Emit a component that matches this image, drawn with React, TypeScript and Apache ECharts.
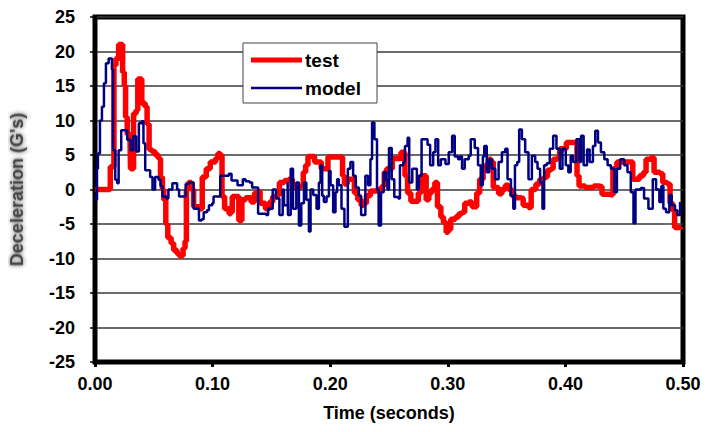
import React, { useEffect, useRef } from "react";
import * as echarts from "echarts";

const xTicks = [0, 0.1, 0.2, 0.3, 0.4, 0.5];
const yTicks = [-25, -20, -15, -10, -5, 0, 5, 10, 15, 20, 25];
const seriesNames = ["test", "model"];

const testTime = [
  0.0003, 0.0116, 0.013, 0.015, 0.0161, 0.0178, 0.0201, 0.0223, 0.0235, 0.0249,
  0.026, 0.0274, 0.0297, 0.0302, 0.0316, 0.0328, 0.035, 0.0364, 0.0387, 0.0398,
  0.0427, 0.0443, 0.046, 0.0483, 0.0511, 0.054, 0.0557, 0.0573, 0.0585, 0.0602,
  0.0619, 0.0647, 0.0669, 0.0698, 0.0715, 0.0737, 0.0749, 0.0766, 0.0777, 0.0794,
  0.0819, 0.0839, 0.089, 0.0912, 0.0946, 0.098, 0.1025, 0.1045, 0.1065, 0.108,
  0.1102, 0.114, 0.1155, 0.1167, 0.1206, 0.1223, 0.1237, 0.1249, 0.128, 0.1328,
  0.1356, 0.1384, 0.1404, 0.1449, 0.1483, 0.1511, 0.1545, 0.1568, 0.161, 0.1647,
  0.1678, 0.1749, 0.1771, 0.1791, 0.1811, 0.1847, 0.1867, 0.1904, 0.1924, 0.1963,
  0.1981, 0.2082, 0.2105, 0.2121, 0.2144, 0.2186, 0.2206, 0.2234, 0.2263, 0.2285,
  0.2308, 0.2342, 0.2404, 0.2441, 0.246, 0.248, 0.2508, 0.2528, 0.258, 0.2602,
  0.2622, 0.2636, 0.2658, 0.2686, 0.2726, 0.2749, 0.2771, 0.2799, 0.2816, 0.2839,
  0.2862, 0.289, 0.2912, 0.2941, 0.2963, 0.2986, 0.3003, 0.3025, 0.3065, 0.3093,
  0.3121, 0.3144, 0.3178, 0.3206, 0.3229, 0.3246, 0.3271, 0.33, 0.3319, 0.3347,
  0.3367, 0.3387, 0.3432, 0.346, 0.3489, 0.3517, 0.3545, 0.3579, 0.3622, 0.3641,
  0.3686, 0.3709, 0.3749, 0.3782, 0.3819, 0.3847, 0.3876, 0.3896, 0.3932, 0.3952,
  0.3989, 0.4008, 0.4082, 0.4099, 0.4116, 0.4169, 0.424, 0.4282, 0.4311, 0.4376,
  0.4404, 0.4438, 0.4551, 0.4573, 0.4607, 0.463, 0.4664, 0.4686, 0.4726, 0.4754,
  0.4805, 0.4828, 0.4867, 0.489, 0.4912, 0.4929, 0.4975,
];
const testValue = [
  0, 0, 3.3, 3.3, 18, 19, 21, 21, 17, 15,
  10.5, 8, 8, 3, 3, 11, 11.5, 16, 16, 12.5,
  12, 9.5, 5.8, 5.5, 5, 4.5, 1.8, 0, -1.5, -5,
  -7, -7.8, -8.8, -9.3, -9.6, -9.6, -8.5, -7.5, 0, 1,
  0, -2.5, -2.8, 1.8, 3, 4, 4.5, 5.2, 5, -1,
  -2.8, -3.5, -3.3, -1, -1, -4.5, -4.5, -1.5, -1.2, -1.8,
  -0.5, -0.3, -2, -2.8, -1.8, -1, -0.8, 1, 1.3, 1.5,
  0.3, 0.5, 2.5, 3.5, 4.8, 4.8, 4, 4, 3, 3,
  4.7, 4.7, 2, 0.8, 1.5, 1.5, -0.5, -1.5, -2.3, -2,
  -0.9, -0.2, 0, 0.5, 2.5, 3, 3, 4.5, 4.5, 5.4,
  5.3, 2, -0.5, -1.7, -1.7, -0.5, 2, 2, -1.5, -0.5,
  0, 1, -2.5, -4, -4.8, -6.2, -5.8, -4.3, -4, -3.5,
  -3.3, -2, -1.8, -2.5, -2.5, -0.5, 1.5, 2.8, 3.5, 4.4,
  4, 0.3, -0.6, 0, 0.6, 0, -0.9, -1.2, -1.3, -2.3,
  -2.6, 0, 0.8, 1.5, 1.8, 2.8, 3, 4.4, 4.6, 5.9,
  5.9, 6.8, 6.8, 2, 0.5, 0.3, 0.5, 0.4, -0.7, -0.8,
  3, 4, 4, 1.5, 1.5, 2, 2.5, 4.4, 4.6, 2.5,
  2.3, 1, 0.8, -2, -3, -5.5, -5.8,
];

const modelTime = [
  0, 0.0009, 0.0017, 0.0025, 0.0042, 0.0059, 0.0076, 0.0093, 0.0116, 0.0133,
  0.0144, 0.0153, 0.0172, 0.0189, 0.0201, 0.0223, 0.0257, 0.0274, 0.0302, 0.0325,
  0.0342, 0.035, 0.0364, 0.0373, 0.0398, 0.0412, 0.0427, 0.0469, 0.0489, 0.0511,
  0.054, 0.0557, 0.0573, 0.0607, 0.0624, 0.0658, 0.0681, 0.0698, 0.0715, 0.0751,
  0.0771, 0.0799, 0.0839, 0.0884, 0.0907, 0.0924, 0.0952, 0.0969, 0.0997, 0.1008,
  0.1048, 0.1065, 0.1138, 0.1161, 0.1195, 0.1212, 0.1243, 0.1257, 0.128, 0.1314,
  0.1336, 0.137, 0.1387, 0.1455, 0.1472, 0.15, 0.1511, 0.1528, 0.1539, 0.1556,
  0.1568, 0.1585, 0.1596, 0.1607, 0.1624, 0.1638, 0.1641, 0.1664, 0.1684, 0.1712,
  0.1734, 0.1754, 0.1777, 0.1797, 0.1819, 0.1833, 0.1856, 0.1884, 0.1904, 0.1918,
  0.1932, 0.1946, 0.1969, 0.1989, 0.2003, 0.2025, 0.2045, 0.2059, 0.2073, 0.2096,
  0.2121, 0.2138, 0.215, 0.2172, 0.2195, 0.2217, 0.2243, 0.2263, 0.2285, 0.2299,
  0.2322, 0.2342, 0.2356, 0.2376, 0.2387, 0.2398, 0.2412, 0.2432, 0.2455, 0.2477,
  0.2487, 0.25, 0.2523, 0.2545, 0.258, 0.2593, 0.2622, 0.2636, 0.2658, 0.2672,
  0.2698, 0.272, 0.2737, 0.2754, 0.2777, 0.2828, 0.285, 0.2876, 0.2895, 0.2918,
  0.2941, 0.298, 0.3008, 0.3037, 0.3059, 0.3088, 0.3102, 0.3121, 0.3144, 0.3178,
  0.3195, 0.3229, 0.3257, 0.328, 0.3298, 0.331, 0.3331, 0.3353, 0.3376, 0.3404,
  0.3432, 0.346, 0.3489, 0.3508, 0.3537, 0.3557, 0.3571, 0.359, 0.3607, 0.363,
  0.3658, 0.3686, 0.3715, 0.3743, 0.3763, 0.3785, 0.3805, 0.3819, 0.3842, 0.3867,
  0.3896, 0.3924, 0.3952, 0.3975, 0.4003, 0.4025, 0.4045, 0.4065, 0.4093, 0.412,
  0.4133, 0.4155, 0.4184, 0.4206, 0.4234, 0.4254, 0.4277, 0.4302, 0.4331, 0.4359,
  0.4387, 0.4416, 0.4438, 0.4466, 0.45, 0.4528, 0.4556, 0.4579, 0.4596, 0.4641,
  0.4669, 0.4706, 0.4743, 0.4771, 0.4799, 0.4816, 0.4833, 0.4856, 0.4884, 0.4904,
  0.4932, 0.4952, 0.4975,
];
const modelValue = [
  -1, -1.5, 3, 5.2, 10, 12, 15.4, 18.3, 19, 19,
  17.4, 5.7, 1.4, 0.9, 5.7, 8.6, 8.6, 7.2, 5.7, 7.7,
  7.7, 5.5, 5.5, 9.6, 9.9, 6.7, 2.8, 1.8, 0, 1.8,
  1.4, 0.5, -1, -1.3, 0, 0.9, 0.9, 0, -1, -1,
  0.8, 1, -2.8, -4.5, -4.3, -3.3, -3, -2.3, -2, -1,
  -1, 2, 2.3, 1.3, 1.3, 0.6, 0.6, 1.5, 1.2, 1,
  0.3, 0.3, -3.5, -3.7, -2.8, -2.8, 0, 0, -1.3, -1.3,
  -3.7, -3.7, 0, -2.3, -2.3, 1, -3.7, 3, -2.8, 1,
  -5.2, -2, 1, -1.5, -6.1, 0, -0.8, -2.8, 1, 3.5,
  -0.9, -1.8, -1, 2.7, 0.6, -3.3, -0.4, 1.5, 0.6, -2.8,
  -5.4, -5.4, 3, 4, 2, 0.3, -0.9, -3.7, -3.7, 2,
  0.6, 4.4, 9.7, 7.3, 7.3, 0, -5.2, -0.4, 2.5, 1.3,
  0, 6, 1.5, -1.1, -1.3, 3.5, 4, 6.3, 7.5, 1,
  3, 3, 0, 2, 7.3, 6.5, 3.5, 5.4, 7.3, 3.5,
  4.4, 3.7, 5.4, 7.8, 4.8, 4.4, 4.8, 3, 4.4, 4.9,
  7.3, 6, 3.5, 0.6, 4.8, 6.3, 2.5, 4.4, 3, 1.5,
  4, 5.4, 5.9, 1.5, -0.9, -2.8, 3.5, 4, 8.7, 7.3,
  5.4, 1.5, 4.9, 4, 3, 1, -2.8, 3.5, 3.8, 5.9,
  7.8, 5.9, 3, 5.9, 3.5, 2.5, 4.9, 4, 7.3, 4,
  7.8, 3.5, 5.8, 4, 6.3, 8.5, 6.8, 5.4, 4.4, 3.5,
  3, -0.4, 3, 4.4, 3.5, 2.5, -0.4, -4.9, 0, 0.2,
  -1.3, -2.8, 1.5, 0, -1.8, 0.5, -2.8, -3.3, -0.8, -2.3,
  -3, -3.7, -1.8,
];

const FONT = "'Liberation Sans', Arial, sans-serif";

export default function App() {
  const ref = useRef<HTMLDivElement>(null);
  useEffect(() => {
    if (!ref.current) return;
    const chart = echarts.init(ref.current, null, { renderer: "svg" });
    const testData = testTime.map((t, i) => [t, testValue[i]]);
    const modelData = modelTime.map((t, i) => [t, modelValue[i]]);
    chart.setOption({
      animation: false,
      backgroundColor: "#ffffff",
      grid: {
        left: 95,
        right: 31,
        top: 17,
        bottom: 70,
        show: true,
        borderColor: "#000000",
        borderWidth: 5,
        backgroundColor: "transparent",
      },
      xAxis: {
        type: "value",
        min: xTicks[0],
        max: xTicks[xTicks.length - 1],
        interval: 0.1,
        name: "Time (seconds)",
        nameLocation: "middle",
        nameGap: 42,
        nameTextStyle: { fontFamily: FONT, fontWeight: "bold", fontSize: 18, color: "#000" },
        axisLine: { show: true, onZero: false, lineStyle: { color: "#000", width: 4 } },
        axisTick: { show: true, inside: false, length: 5, lineStyle: { color: "#000", width: 3 } },
        splitLine: { show: false },
        axisLabel: {
          margin: 13,
          fontFamily: FONT,
          fontWeight: "bold",
          fontSize: 18,
          color: "#000",
          formatter: (v: number) => v.toFixed(2),
        },
      },
      yAxis: {
        type: "value",
        min: yTicks[0],
        max: yTicks[yTicks.length - 1],
        interval: 5,
        name: "Deceleration (G's)",
        nameLocation: "middle",
        nameGap: 69,
        nameTextStyle: {
          fontFamily: FONT,
          fontWeight: "bold",
          fontSize: 18,
          color: "#444",
          textShadowColor: "rgba(60,60,60,0.9)",
          textShadowBlur: 4,
        },
        axisLine: { show: true, onZero: false, lineStyle: { color: "#000", width: 4 } },
        axisTick: { show: true, inside: false, length: 5, lineStyle: { color: "#000", width: 1.5 } },
        splitLine: { show: true, lineStyle: { color: "#3a3a3a", width: 1.5 } },
        axisLabel: {
          margin: 20,
          fontFamily: FONT,
          fontWeight: "bold",
          fontSize: 18,
          color: "#000",
        },
      },
      series: [
        {
          name: seriesNames[0],
          type: "line",
          data: testData,
          step: "end",
          showSymbol: false,
          symbol: "none",
          lineStyle: { color: "#ff0000", width: 5.5 },
          z: 2,
        },
        {
          name: seriesNames[1],
          type: "line",
          data: modelData,
          step: "end",
          showSymbol: false,
          symbol: "none",
          lineStyle: { color: "#000080", width: 2.5 },
          z: 3,
        },
      ],
      graphic: [
        {
          type: "rect",
          shape: { x: 243, y: 43, width: 134, height: 60 },
          style: { fill: "#ffffff", stroke: "#444", lineWidth: 1 },
          z: 100,
        },
        {
          type: "line",
          shape: { x1: 251, y1: 60, x2: 302, y2: 60 },
          style: { stroke: "#ff0000", lineWidth: 5 },
          z: 101,
        },
        {
          type: "line",
          shape: { x1: 251, y1: 88, x2: 302, y2: 88 },
          style: { stroke: "#000080", lineWidth: 2.5 },
          z: 101,
        },
        {
          type: "text",
          x: 305,
          y: 60,
          style: {
            text: seriesNames[0],
            fontFamily: FONT,
            fontWeight: "bold",
            fontSize: 19,
            fill: "#000",
            verticalAlign: "middle",
          },
          z: 101,
        },
        {
          type: "text",
          x: 305,
          y: 88,
          style: {
            text: seriesNames[1],
            fontFamily: FONT,
            fontWeight: "bold",
            fontSize: 19,
            fill: "#000",
            verticalAlign: "middle",
          },
          z: 101,
        },
      ],
    });
    return () => chart.dispose();
  }, []);
  return <div ref={ref} style={{ width: 714, height: 432, margin: -8 }} />;
}
